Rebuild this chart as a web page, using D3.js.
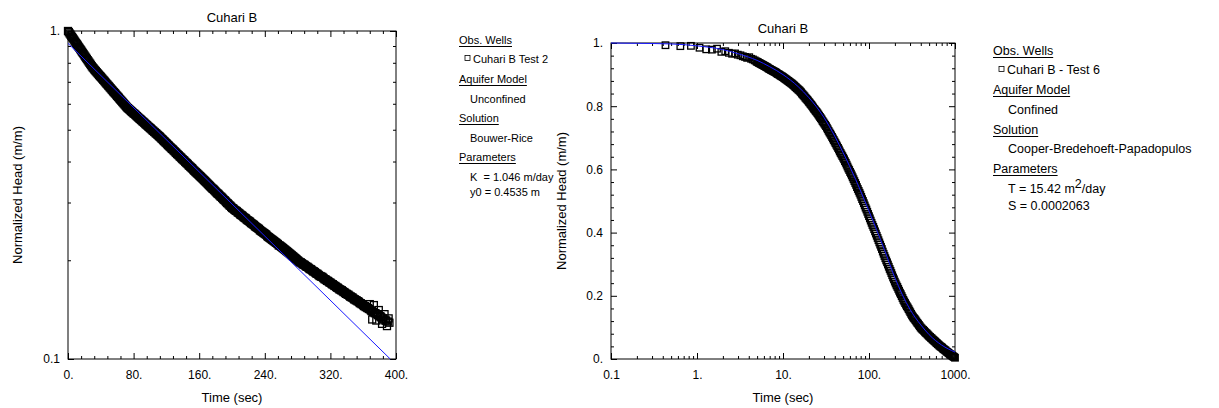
<!DOCTYPE html>
<html>
<head>
<meta charset="utf-8">
<script src="https://cdn.jsdelivr.net/npm/d3@7"></script>
<style>
  html, body { margin: 0; padding: 0; background: #fff; }
  svg { display: block; font-family: "Liberation Sans", Arial, Helvetica, sans-serif; }
  svg text { fill: #000; }
</style>
</head>
<body>
<svg id="chart" width="1219" height="408"></svg>
<script>
// ---------- Test 2: Bouwer-Rice slug test (semi-log) ----------
const slugTitle = "Cuhari B";
const slugTimeStep = 1; // seconds between logger readings, first reading at t = 0
const slugHeads = [
  1.000, 0.992, 0.983, 0.975, 0.967, 0.958, 0.950, 0.942, 0.934, 0.926, 0.918, 0.911, 0.903, 0.895, 0.888, 0.880, 0.873, 0.865, 0.858, 0.851,
  0.843, 0.836, 0.829, 0.822, 0.815, 0.808, 0.801, 0.795, 0.788, 0.781, 0.775, 0.770, 0.764, 0.759, 0.754, 0.749, 0.744, 0.739, 0.734, 0.729,
  0.725, 0.720, 0.715, 0.710, 0.706, 0.701, 0.696, 0.691, 0.687, 0.682, 0.678, 0.673, 0.669, 0.664, 0.660, 0.655, 0.651, 0.647, 0.643, 0.638,
  0.634, 0.630, 0.626, 0.621, 0.617, 0.613, 0.609, 0.605, 0.601, 0.597, 0.593, 0.589, 0.585, 0.582, 0.579, 0.576, 0.573, 0.570, 0.567, 0.564,
  0.561, 0.559, 0.556, 0.553, 0.550, 0.547, 0.544, 0.541, 0.539, 0.536, 0.533, 0.530, 0.528, 0.525, 0.522, 0.519, 0.517, 0.514, 0.511, 0.509,
  0.506, 0.504, 0.501, 0.498, 0.496, 0.493, 0.491, 0.488, 0.486, 0.483, 0.481, 0.478, 0.476, 0.473, 0.470, 0.468, 0.465, 0.462, 0.460, 0.457,
  0.455, 0.452, 0.449, 0.447, 0.444, 0.442, 0.439, 0.437, 0.435, 0.432, 0.430, 0.427, 0.425, 0.422, 0.420, 0.418, 0.415, 0.413, 0.411, 0.408,
  0.406, 0.404, 0.402, 0.399, 0.397, 0.395, 0.393, 0.390, 0.388, 0.386, 0.384, 0.382, 0.380, 0.377, 0.375, 0.373, 0.371, 0.369, 0.367, 0.365,
  0.363, 0.361, 0.359, 0.357, 0.355, 0.353, 0.351, 0.349, 0.347, 0.345, 0.343, 0.341, 0.339, 0.337, 0.335, 0.333, 0.331, 0.330, 0.328, 0.326,
  0.324, 0.322, 0.320, 0.319, 0.317, 0.315, 0.313, 0.312, 0.310, 0.308, 0.306, 0.305, 0.303, 0.301, 0.299, 0.298, 0.296, 0.294, 0.293, 0.291,
  0.289, 0.288, 0.287, 0.285, 0.284, 0.283, 0.282, 0.280, 0.279, 0.278, 0.276, 0.275, 0.274, 0.273, 0.271, 0.270, 0.269, 0.268, 0.266, 0.265,
  0.264, 0.263, 0.262, 0.260, 0.259, 0.258, 0.257, 0.256, 0.254, 0.253, 0.252, 0.251, 0.250, 0.249, 0.247, 0.246, 0.245, 0.244, 0.243, 0.242,
  0.241, 0.240, 0.239, 0.237, 0.236, 0.235, 0.234, 0.233, 0.232, 0.231, 0.230, 0.229, 0.228, 0.227, 0.226, 0.225, 0.224, 0.222, 0.222, 0.221,
  0.220, 0.219, 0.218, 0.217, 0.216, 0.215, 0.214, 0.213, 0.212, 0.211, 0.210, 0.209, 0.208, 0.207, 0.206, 0.205, 0.204, 0.203, 0.202, 0.201,
  0.200, 0.199, 0.198, 0.197, 0.197, 0.196, 0.195, 0.194, 0.194, 0.193, 0.192, 0.191, 0.191, 0.190, 0.189, 0.188, 0.188, 0.187, 0.186, 0.185,
  0.185, 0.184, 0.183, 0.182, 0.182, 0.181, 0.180, 0.179, 0.179, 0.178, 0.178, 0.177, 0.176, 0.175, 0.175, 0.174, 0.173, 0.173, 0.172, 0.171,
  0.171, 0.170, 0.169, 0.169, 0.168, 0.167, 0.167, 0.166, 0.165, 0.165, 0.164, 0.163, 0.163, 0.162, 0.162, 0.161, 0.160, 0.160, 0.159, 0.158,
  0.158, 0.157, 0.157, 0.156, 0.155, 0.155, 0.154, 0.154, 0.153, 0.152, 0.152, 0.151, 0.151, 0.150, 0.150, 0.149, 0.148, 0.148, 0.147, 0.147,
  0.146, 0.145, 0.145, 0.144, 0.144, 0.143, 0.143, 0.142, 0.147, 0.141, 0.140, 0.132, 0.139, 0.146, 0.138, 0.138, 0.131, 0.137, 0.136, 0.141,
  0.135, 0.135, 0.134, 0.128, 0.133, 0.132, 0.137, 0.131, 0.131, 0.126, 0.130, 0.133, 0.129
];
// fitted straight line (Bouwer-Rice)
const slugFitTimes = [0, 393];
const slugFitHeads = [0.917, 0.1];
const slugXTicks = [0, 80, 160, 240, 320, 400];
const slugXTickLabels = ["0.", "80.", "160.", "240.", "320.", "400."];
const slugYTicks = [0.1, 1];
const slugYTickLabels = ["0.1", "1."];
const slugLegend = [
  { kind: "head", text: "Obs. Wells" },
  { kind: "well", text: "Cuhari B Test 2" },
  { kind: "head", text: "Aquifer Model" },
  { kind: "item", text: "Unconfined" },
  { kind: "head", text: "Solution" },
  { kind: "item", text: "Bouwer-Rice" },
  { kind: "head", text: "Parameters" },
  { kind: "item", text: "K  = 1.046 m/day" },
  { kind: "item", text: "y0 = 0.4535 m" }
];

// ---------- Test 6: Cooper-Bredehoeft-Papadopulos (log time) ----------
const cbpTitle = "Cuhari B";
// early readings (linear sampling)
const cbpEarlyTimes = [0.43, 0.64, 0.85, 1.07, 1.28, 1.49, 1.71, 1.92, 2.13, 2.35, 2.56, 2.77, 2.98, 3.20, 3.41,
  3.62, 3.83, 4.05, 4.26, 4.47, 4.69, 4.90];
const cbpEarlyHeads = [0.993, 0.990, 0.991, 0.985, 0.980, 0.979, 0.982, 0.972, 0.974, 0.969, 0.966, 0.967, 0.963,
  0.961, 0.958, 0.956, 0.953, 0.955, 0.950, 0.948, 0.945, 0.942];
// later readings (logarithmic sampling, 100 per decade starting at log10 t = 0.7)
const cbpLogStart = 0.7;
const cbpPerDecade = 100;
const cbpLogHeads = [
  0.940, 0.939, 0.937, 0.936, 0.934, 0.933, 0.931, 0.930, 0.928, 0.927, 0.925, 0.924, 0.922, 0.920, 0.918,
  0.917, 0.915, 0.914, 0.912, 0.911, 0.909, 0.908, 0.906, 0.904, 0.902, 0.901, 0.899, 0.897, 0.895, 0.894,
  0.892, 0.890, 0.888, 0.886, 0.884, 0.882, 0.880, 0.878, 0.876, 0.874, 0.872, 0.870, 0.867, 0.865, 0.862,
  0.860, 0.857, 0.855, 0.852, 0.850, 0.847, 0.844, 0.840, 0.837, 0.834, 0.831, 0.827, 0.824, 0.821, 0.818,
  0.814, 0.811, 0.807, 0.804, 0.800, 0.796, 0.792, 0.789, 0.785, 0.782, 0.778, 0.774, 0.770, 0.766, 0.762,
  0.758, 0.753, 0.749, 0.745, 0.741, 0.737, 0.732, 0.727, 0.722, 0.717, 0.713, 0.708, 0.703, 0.698, 0.693,
  0.688, 0.683, 0.678, 0.673, 0.668, 0.663, 0.657, 0.652, 0.647, 0.642, 0.637, 0.632, 0.626, 0.621, 0.615,
  0.609, 0.603, 0.598, 0.592, 0.587, 0.581, 0.575, 0.569, 0.563, 0.557, 0.551, 0.544, 0.538, 0.532, 0.526,
  0.520, 0.513, 0.506, 0.500, 0.493, 0.486, 0.479, 0.473, 0.466, 0.459,
  0.452, 0.445, 0.438, 0.431, 0.424, 0.418, 0.411, 0.404, 0.397, 0.390, 0.383, 0.376, 0.369, 0.362, 0.355,
  0.348, 0.340, 0.333, 0.326, 0.319, 0.312, 0.306, 0.299, 0.292, 0.285, 0.279, 0.272, 0.265, 0.258, 0.252,
  0.245, 0.239, 0.233, 0.228, 0.222, 0.216, 0.210, 0.205, 0.199, 0.193, 0.187, 0.182, 0.177, 0.172, 0.167,
  0.163, 0.158, 0.153, 0.148, 0.143, 0.138, 0.134, 0.130, 0.127, 0.123, 0.119, 0.115, 0.112, 0.108, 0.104,
  0.100, 0.097, 0.094, 0.092, 0.089, 0.086, 0.083, 0.081, 0.078, 0.075, 0.072, 0.070, 0.067, 0.065, 0.062,
  0.060, 0.057, 0.055, 0.052, 0.050, 0.047, 0.045, 0.042, 0.040, 0.038, 0.036, 0.033, 0.031, 0.029, 0.027,
  0.024, 0.022, 0.020, 0.018, 0.016, 0.014, 0.012, 0.010, 0.008, 0.006,
  0.004
];
// type curve fitted with T = 15.42 m2/day, S = 0.0002063
const cbpFitTimes = [0.1, 0.2, 0.5, 1, 2, 3, 5, 7, 10, 15, 20, 30, 40, 50, 70, 100, 150, 200, 300, 400, 500, 700, 1000];
const cbpFitHeads = [1.000, 0.999, 0.997, 0.991, 0.979, 0.966, 0.945, 0.925, 0.900, 0.862, 0.827, 0.764, 0.705,
  0.653, 0.568, 0.468, 0.348, 0.257, 0.157, 0.108, 0.077, 0.044, 0.022];
const cbpXTicks = [0.1, 1, 10, 100, 1000];
const cbpXTickLabels = ["0.1", "1.", "10.", "100.", "1000."];
const cbpYTicks = [0, 0.2, 0.4, 0.6, 0.8, 1];
const cbpYTickLabels = ["0.", "0.2", "0.4", "0.6", "0.8", "1."];
const cbpLegend = [
  { kind: "head", text: "Obs. Wells" },
  { kind: "well", text: "Cuhari B - Test 6" },
  { kind: "head", text: "Aquifer Model" },
  { kind: "item", text: "Confined" },
  { kind: "head", text: "Solution" },
  { kind: "item", text: "Cooper-Bredehoeft-Papadopulos" },
  { kind: "head", text: "Parameters" },
  { kind: "item", text: "T = 15.42 m", sup: "2", after: "/day" },
  { kind: "item", text: "S = 0.0002063" }
];

const yLabel = "Normalized Head (m/m)";
const xLabel = "Time (sec)";

const svg = d3.select("#chart");

function drawPanel(p) {
  const g = svg.append("g");
  const x = p.x, y = p.y;
  const [xl, xr] = x.range();
  const [yb, yt] = y.range();

  g.append("rect")
    .attr("x", xl).attr("y", yt).attr("width", xr - xl).attr("height", yb - yt)
    .attr("fill", "none").attr("stroke", "#000").attr("stroke-width", 1);

  const tidy = s => {
    s.attr("font-family", null).attr("font-size", null);
    s.select(".domain").remove();
    s.selectAll("text").style("font-size", p.tickFont + "px");
  };
  const labelFor = (vals, labels) => d => labels[vals.indexOf(d)];

  // bottom (labelled) and top ticks, pointing inward
  g.append("g").attr("transform", `translate(0,${yb})`)
    .call(d3.axisBottom(x).tickValues(p.xTicks).tickSizeInner(-6).tickSizeOuter(0)
      .tickPadding(11).tickFormat(labelFor(p.xTicks, p.xTickLabels))).call(tidy);
  g.append("g").attr("transform", `translate(0,${yb})`)
    .call(d3.axisBottom(x).tickValues(p.xMinor).tickSizeInner(-3).tickSizeOuter(0).tickFormat("")).call(tidy);
  g.append("g").attr("transform", `translate(0,${yt})`)
    .call(d3.axisTop(x).tickValues(p.xTicks).tickSizeInner(-6).tickSizeOuter(0).tickFormat("")).call(tidy);
  g.append("g").attr("transform", `translate(0,${yt})`)
    .call(d3.axisTop(x).tickValues(p.xMinor).tickSizeInner(-3).tickSizeOuter(0).tickFormat("")).call(tidy);

  // left (labelled) and right ticks
  g.append("g").attr("transform", `translate(${xl},0)`)
    .call(d3.axisLeft(y).tickValues(p.yTicks).tickSizeInner(-6).tickSizeOuter(0)
      .tickPadding(8).tickFormat(labelFor(p.yTicks, p.yTickLabels))).call(tidy);
  g.append("g").attr("transform", `translate(${xl},0)`)
    .call(d3.axisLeft(y).tickValues(p.yMinor).tickSizeInner(-3).tickSizeOuter(0).tickFormat("")).call(tidy);
  g.append("g").attr("transform", `translate(${xr},0)`)
    .call(d3.axisRight(y).tickValues(p.yTicks).tickSizeInner(-6).tickSizeOuter(0).tickFormat("")).call(tidy);
  g.append("g").attr("transform", `translate(${xr},0)`)
    .call(d3.axisRight(y).tickValues(p.yMinor).tickSizeInner(-3).tickSizeOuter(0).tickFormat("")).call(tidy);

  // observed heads: open squares
  const pts = p.times.map((t, i) => ({ t, v: p.heads[i] }));
  const s = p.mark / 2;
  g.append("g").selectAll("rect")
    .data(pts).join("rect")
    .attr("x", d => x(d.t) - s).attr("y", d => y(d.v) - s)
    .attr("width", p.mark).attr("height", p.mark)
    .attr("fill", "none").attr("stroke", "#000").attr("stroke-width", 1.3);

  // fitted solution
  const fit = p.fitTimes.map((t, i) => ({ t, v: p.fitHeads[i] }));
  g.append("path").datum(fit)
    .attr("fill", "none").attr("stroke", "#1a1aff").attr("stroke-width", 1)
    .attr("d", d3.line().x(d => x(d.t)).y(d => y(d.v)).curve(p.curve));

  // titles
  const cx = (xl + xr) / 2;
  g.append("text").attr("x", cx).attr("y", p.titleY).attr("text-anchor", "middle")
    .style("font-size", p.labelFont + "px").text(p.title);
  g.append("text").attr("x", cx).attr("y", 402).attr("text-anchor", "middle")
    .style("font-size", p.labelFont + "px").text(xLabel);
  g.append("text")
    .attr("transform", `translate(${p.yLabelX},${(yb + yt) / 2}) rotate(-90)`)
    .attr("text-anchor", "middle").style("font-size", p.labelFont + "px").text(yLabel);

  // legend
  const lg = svg.append("g").style("font-size", p.legFont + "px");
  p.legend.forEach((row, i) => {
    const by = p.legendY[i];
    if (row.kind === "head") {
      const t = lg.append("text").attr("x", p.legX).attr("y", by).text(row.text);
      const w = t.node().getComputedTextLength();
      lg.append("line").attr("x1", p.legX).attr("x2", p.legX + w)
        .attr("y1", by + 2.5).attr("y2", by + 2.5).attr("stroke", "#000").attr("stroke-width", 1);
    } else if (row.kind === "well") {
      lg.append("rect").attr("x", p.markX).attr("y", by - 7.5).attr("width", 5).attr("height", 5)
        .attr("fill", "none").attr("stroke", "#000").attr("stroke-width", 0.8);
      lg.append("text").attr("x", p.markX + 8).attr("y", by).text(row.text);
    } else {
      const t = lg.append("text").attr("x", p.itemX).attr("y", by).attr("xml:space", "preserve");
      t.append("tspan").text(row.text);
      if (row.sup) {
        t.append("tspan").attr("dy", -5).text(row.sup);
        t.append("tspan").attr("dy", 5).text(row.after);
      }
    }
  });
}

// minor tick positions
const slugXMinor = d3.range(16, 400, 16).filter(v => v % 80 !== 0);
const logMinor = (lo, hi) => {
  const out = [];
  for (let d = lo; d < hi; d++) for (let k = 2; k <= 9; k++) out.push(k * Math.pow(10, d));
  return out;
};
const cbpYMinor = d3.range(0.04, 1, 0.04).filter(v => Math.abs(v / 0.2 - Math.round(v / 0.2)) > 1e-6);

const cbpTimes = cbpEarlyTimes.concat(cbpLogHeads.map((_, i) => Math.pow(10, cbpLogStart + i / cbpPerDecade)));
const cbpHeads = cbpEarlyHeads.concat(cbpLogHeads);

drawPanel({
  x: d3.scaleLinear().domain([0, 400]).range([68, 396]),
  y: d3.scaleLog().domain([0.1, 1]).range([359, 31]),
  xTicks: slugXTicks, xTickLabels: slugXTickLabels, xMinor: slugXMinor,
  yTicks: slugYTicks, yTickLabels: slugYTickLabels, yMinor: logMinor(-1, 0),
  times: slugHeads.map((_, i) => i * slugTimeStep), heads: slugHeads, mark: 7,
  fitTimes: slugFitTimes, fitHeads: slugFitHeads, curve: d3.curveLinear,
  title: slugTitle, titleY: 22, yLabelX: 22,
  tickFont: 12, labelFont: 13, legFont: 11,
  legend: slugLegend, legendY: [44, 63, 83, 103, 122, 142, 161, 181, 196],
  legX: 459, itemX: 470, markX: 465
});

drawPanel({
  x: d3.scaleLog().domain([0.1, 1000]).range([611, 955]),
  y: d3.scaleLinear().domain([0, 1]).range([359, 43]),
  xTicks: cbpXTicks, xTickLabels: cbpXTickLabels, xMinor: logMinor(-1, 3),
  yTicks: cbpYTicks, yTickLabels: cbpYTickLabels, yMinor: cbpYMinor,
  times: cbpTimes, heads: cbpHeads, mark: 6.5,
  fitTimes: cbpFitTimes, fitHeads: cbpFitHeads, curve: d3.curveMonotoneX,
  title: cbpTitle, titleY: 33, yLabelX: 566,
  tickFont: 12, labelFont: 13, legFont: 12.5,
  legend: cbpLegend, legendY: [55, 74, 94, 114, 134, 153, 173, 193, 210],
  legX: 993, itemX: 1008, markX: 999
});
</script>
</body>
</html>
